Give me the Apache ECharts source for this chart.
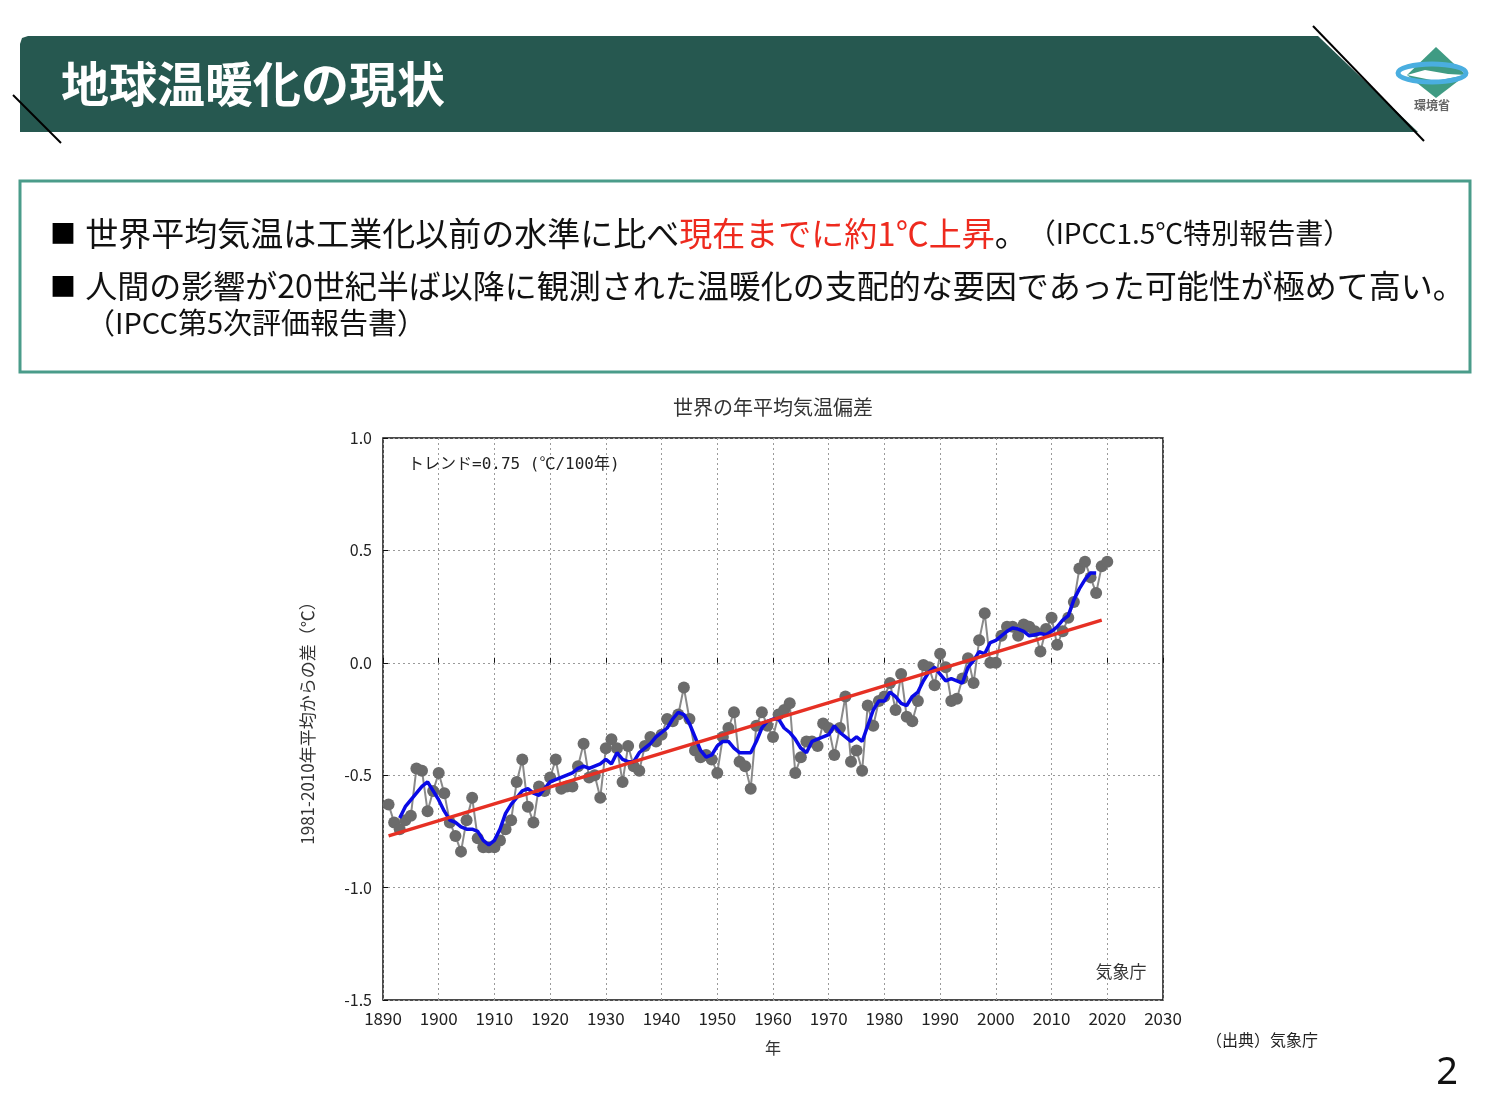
<!DOCTYPE html>
<html><head><meta charset="utf-8">
<script src="https://cdn.jsdelivr.net/npm/echarts@6/dist/echarts.min.js"></script>
<style>html,body{margin:0;padding:0;background:#fff}#c{width:1489px;height:1111px}</style>
</head><body><div id="c"></div>
<script>
// ---- data ----
const chartTitle = '世界の年平均気温偏差';
const xTicks = [1890, 2030, 10];   // min, max, interval
const yTicks = [-1.5, 1.0, 0.5];
const annualStartYear = 1891;
const annualAnomaly = [
  -0.63,-0.71,-0.74,-0.70,-0.68,-0.47,-0.48,-0.66,-0.57,-0.49,   // 1891-1900
  -0.58,-0.71,-0.77,-0.84,-0.70,-0.60,-0.78,-0.82,-0.82,-0.82,   // 1901-1910
  -0.79,-0.74,-0.70,-0.53,-0.43,-0.64,-0.71,-0.55,-0.57,-0.51,   // 1911-1920
  -0.43,-0.56,-0.55,-0.55,-0.46,-0.36,-0.51,-0.50,-0.60,-0.38,   // 1921-1930
  -0.34,-0.38,-0.53,-0.37,-0.46,-0.48,-0.37,-0.33,-0.35,-0.32,   // 1931-1940
  -0.25,-0.26,-0.23,-0.11,-0.25,-0.39,-0.42,-0.41,-0.43,-0.49,   // 1941-1950
  -0.33,-0.29,-0.22,-0.44,-0.46,-0.56,-0.28,-0.22,-0.28,-0.33,   // 1951-1960
  -0.23,-0.21,-0.18,-0.49,-0.42,-0.35,-0.35,-0.37,-0.27,-0.29,   // 1961-1970
  -0.41,-0.29,-0.15,-0.44,-0.39,-0.48,-0.19,-0.28,-0.17,-0.15,   // 1971-1980
  -0.09,-0.21,-0.05,-0.24,-0.26,-0.17,-0.01,-0.02,-0.10, 0.04,   // 1981-1990
  -0.02,-0.17,-0.16,-0.07, 0.02,-0.09, 0.10, 0.22, 0.00, 0.00,   // 1991-2000
   0.12, 0.16, 0.16, 0.12, 0.17, 0.16, 0.14, 0.05, 0.15, 0.20,   // 2001-2010
   0.08, 0.14, 0.20, 0.27, 0.42, 0.45, 0.38, 0.31, 0.43, 0.45    // 2011-2020
];
const smoothStartYear = 1893;
const smoothAnomaly = [
  -0.69,-0.64,-0.61,-0.58,-0.55,-0.53,-0.57,-0.61,               // 1893-1900
  -0.66,-0.70,-0.71,-0.73,-0.74,-0.74,-0.75,-0.79,-0.81,-0.79,   // 1901-1910
  -0.74,-0.67,-0.63,-0.60,-0.57,-0.56,-0.58,-0.59,-0.56,-0.53,   // 1911-1920
  -0.52,-0.51,-0.50,-0.49,-0.47,-0.46,-0.47,-0.46,-0.45,-0.43,   // 1921-1930
  -0.45,-0.40,-0.43,-0.44,-0.44,-0.40,-0.38,-0.36,-0.33,-0.31,   // 1931-1940
  -0.29,-0.25,-0.22,-0.23,-0.27,-0.33,-0.39,-0.42,-0.41,-0.37,   // 1941-1950
  -0.35,-0.35,-0.38,-0.40,-0.40,-0.40,-0.35,-0.29,-0.26,-0.25,   // 1951-1960
  -0.25,-0.29,-0.31,-0.34,-0.38,-0.40,-0.35,-0.34,-0.33,-0.32,   // 1961-1970
  -0.28,-0.31,-0.33,-0.35,-0.33,-0.35,-0.28,-0.21,-0.17,-0.17,   // 1971-1980
  -0.13,-0.15,-0.18,-0.19,-0.15,-0.13,-0.08,-0.04,-0.02,-0.05,   // 1981-1990
  -0.08,-0.07,-0.08,-0.09,-0.02, 0.01, 0.05, 0.04, 0.09, 0.10,   // 1991-2000
   0.12, 0.14, 0.155,0.15, 0.14, 0.12, 0.125,0.13, 0.125,0.14,   // 2001-2010
   0.16, 0.19, 0.21, 0.28, 0.33, 0.37, 0.40, 0.40                // 2011-2018
];
const trendYears = [1891, 2019];
const trendValues = [-0.77, 0.19];
const trendNote = 'トレンド=0.75 (℃/100年)';

// ---- build ----
const annualData = annualAnomaly.map((v, i) => [annualStartYear + i, v]);
const smoothData = smoothAnomaly.map((v, i) => [smoothStartYear + i, v]);
const trendData = trendYears.map((y, i) => [y, trendValues[i]]);

const JP = '"Noto Sans CJK JP","Noto Sans",sans-serif';
const chart = echarts.init(document.getElementById('c'), null, {renderer: 'canvas'});

chart.setOption({
  backgroundColor: '#ffffff',
  animation: false,
  grid: {left: 383, top: 438, width: 780, height: 562, show: true,
         borderColor: '#111', borderWidth: 1.5, backgroundColor: 'transparent'},
  xAxis: {
    type: 'value', min: xTicks[0], max: xTicks[1], interval: xTicks[2],
    name: '年', nameLocation: 'middle', nameGap: 40,
    nameTextStyle: {fontFamily: JP, fontSize: 16, color: '#333'},
    axisLine: {show: false},
    axisTick: {show: true, inside: true, length: 5, lineStyle: {color: '#111'}},
    axisLabel: {fontFamily: JP, fontSize: 17, color: '#222', margin: 10,
                formatter: v => String(v)},
    splitLine: {show: true, lineStyle: {color: '#9a9a9a', type: [2, 3], width: 1}}
  },
  yAxis: {
    type: 'value', min: yTicks[0], max: yTicks[1], interval: yTicks[2],
    name: '1981-2010年平均からの差（℃）', nameLocation: 'middle', nameGap: 67, nameRotate: 90,
    nameTextStyle: {fontFamily: JP, fontSize: 17, color: '#333'},
    axisLine: {show: false},
    axisTick: {show: true, inside: true, length: 5, lineStyle: {color: '#111'}},
    axisLabel: {fontFamily: JP, fontSize: 16, color: '#222', margin: 11,
                formatter: v => v.toFixed(1)},
    splitLine: {show: true, lineStyle: {color: '#9a9a9a', type: [2, 3], width: 1}}
  },
  series: [
    {type: 'line', data: annualData, symbol: 'circle', symbolSize: 12,
     itemStyle: {color: '#6b6b6b'}, lineStyle: {color: '#8a8a8a', width: 2}, z: 2},
    {type: 'line', data: smoothData, symbol: 'none',
     lineStyle: {color: '#0a0ae6', width: 3.5}, z: 3},
    {type: 'line', data: trendData, symbol: 'none',
     lineStyle: {color: '#e63024', width: 3.5}, z: 4}
  ],
  graphic: [
    // header band
    {type: 'polygon', shape: {points: [[20,44],[22,38],[28,36],[1318,36],[1418,132],[20,132]]},
     style: {fill: '#265850'}, z: 1},
    {type: 'line', shape: {x1: 13, y1: 95, x2: 61, y2: 143}, style: {stroke: '#000', lineWidth: 2}, z: 2},
    {type: 'line', shape: {x1: 1313, y1: 26, x2: 1424, y2: 141}, style: {stroke: '#000', lineWidth: 2}, z: 2},
    {type: 'text', x: 61, y: 84, z: 3,
     style: {text: '地球温暖化の現状', fontFamily: JP, fontSize: 48, fontWeight: 'bold',
             fill: '#ffffff', textVerticalAlign: 'middle'}},
    // logo
    {type: 'polygon', shape: {points: [[1436,47],[1466,75],[1436,98],[1407,75]]},
     style: {fill: '#3f9b83'}, z: 3},
    {type: 'polygon', shape: {points: [[1407,75],[1425,70],[1448,74],[1466,75],[1436,81]]},
     style: {fill: '#ffffff'}, z: 4},
    {type: 'ellipse', shape: {cx: 1432, cy: 73, rx: 34, ry: 9},
     style: {fill: 'none', stroke: '#4aaee0', lineWidth: 5}, z: 5},
    {type: 'text', x: 1432, y: 105, z: 5,
     style: {text: '環境省', fontFamily: JP, fontSize: 12, fontWeight: 'bold', fill: '#666',
             textAlign: 'center', textVerticalAlign: 'middle'}},
    // text box
    {type: 'rect', shape: {x: 20, y: 181, width: 1450, height: 191},
     style: {fill: '#ffffff', stroke: '#4a9c8a', lineWidth: 3}, z: 1},
    {type: 'text', x: 50, y: 233, z: 3,
     style: {
       text: '{q|■} {b|世界平均気温は工業化以前の水準に比べ}{r|現在までに約1℃上昇}{b|。}{s|（IPCC1.5℃特別報告書）}',
       textVerticalAlign: 'middle',
       rich: {
         q: {fontFamily: JP, fontSize: 26, fill: '#000', padding: [0, 6, 0, 0]},
         b: {fontFamily: JP, fontSize: 33, fill: '#111'},
         r: {fontFamily: JP, fontSize: 33, fill: '#ee2a1e'},
         s: {fontFamily: JP, fontSize: 28, fill: '#111'}
       }}},
    {type: 'text', x: 50, y: 286, z: 3,
     style: {
       text: '{q|■} {b|人間の影響が20世紀半ば以降に観測された温暖化の支配的な要因であった可能性が極めて高い。}',
       textVerticalAlign: 'middle',
       rich: {
         q: {fontFamily: JP, fontSize: 26, fill: '#000', padding: [0, 6, 0, 0]},
         b: {fontFamily: JP, fontSize: 32, fill: '#111'}
       }}},
    {type: 'text', x: 86, y: 323, z: 3,
     style: {text: '（IPCC第5次評価報告書）', fontFamily: JP, fontSize: 29, fill: '#111',
             textVerticalAlign: 'middle'}},
    // chart annotations
    {type: 'text', x: 773, y: 407, z: 10,
     style: {text: chartTitle, fontFamily: JP, fontSize: 20, fill: '#333',
             textAlign: 'center', textVerticalAlign: 'middle'}},
    {type: 'text', x: 408, y: 465, z: 10,
     style: {text: trendNote, fontFamily: '"DejaVu Sans Mono",' + JP, fontSize: 16, fill: '#222',
             textVerticalAlign: 'middle'}},
    {type: 'text', x: 1121, y: 972, z: 10,
     style: {text: '気象庁', fontFamily: JP, fontSize: 17, fill: '#333',
             textAlign: 'center', textVerticalAlign: 'middle'}},
    {type: 'text', x: 1262, y: 1040, z: 10,
     style: {text: '（出典）気象庁', fontFamily: JP, fontSize: 16, fill: '#222',
             textAlign: 'center', textVerticalAlign: 'middle'}},
    {type: 'text', x: 1447, y: 1073, z: 10,
     style: {text: '2', fontFamily: '"Noto Sans",sans-serif', fontSize: 38, fill: '#111',
             textAlign: 'center', textVerticalAlign: 'middle'}}
  ]
});
</script></body></html>
